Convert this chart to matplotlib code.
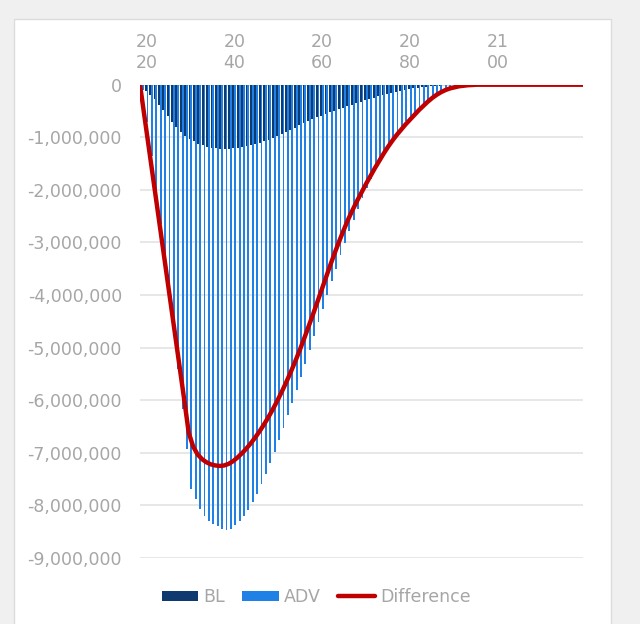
import numpy as np
import matplotlib
matplotlib.use("Agg")
import matplotlib.pyplot as plt
from matplotlib.patches import Rectangle
from matplotlib.ticker import FuncFormatter

years = np.arange(2019, 2120)

# values in millions (magnitude, plotted as negative)
bl = [0.08, 0.12, 0.2, 0.28, 0.38, 0.48, 0.6, 0.7, 0.8, 0.9,
      0.97, 1.03, 1.08, 1.12, 1.15, 1.18, 1.2, 1.21, 1.22, 1.22,
      1.22, 1.21, 1.2, 1.19, 1.17, 1.15, 1.13, 1.1, 1.08, 1.05,
      1.02, 0.98, 0.94, 0.9, 0.86, 0.82, 0.77, 0.73, 0.69, 0.66,
      0.62, 0.59, 0.55, 0.52, 0.5, 0.47, 0.44, 0.41, 0.38, 0.35,
      0.32, 0.3, 0.27, 0.25, 0.22, 0.2, 0.18, 0.16, 0.14, 0.12,
      0.1, 0.09, 0.07, 0.06, 0.05, 0.04, 0.03, 0.025, 0.02, 0.015,
      0.01, 0.008, 0.005, 0.004, 0.003, 0.002, 0.001, 0.001, 0.001, 0.0,
      0.0, 0.0, 0.0, 0.0, 0.0, 0.0, 0.0, 0.0, 0.0, 0.0,
      0.0, 0.0, 0.0, 0.0, 0.0, 0.0, 0.0, 0.0, 0.0, 0.0, 0.0]

adv = [0.1, 0.7, 1.35, 2.0, 2.65, 3.3, 3.95, 4.65, 5.4, 6.16,
       6.92, 7.68, 7.88, 8.07, 8.2, 8.29, 8.36, 8.4, 8.45, 8.46,
       8.44, 8.38, 8.3, 8.2, 8.08, 7.94, 7.78, 7.6, 7.41, 7.2,
       6.98, 6.75, 6.52, 6.29, 6.05, 5.81, 5.56, 5.31, 5.05, 4.78,
       4.52, 4.26, 4.0, 3.74, 3.5, 3.24, 3.01, 2.78, 2.57, 2.36,
       2.16, 1.97, 1.79, 1.6, 1.45, 1.29, 1.15, 1.02, 0.9, 0.79,
       0.69, 0.6, 0.52, 0.44, 0.37, 0.31, 0.26, 0.21, 0.17, 0.14,
       0.11, 0.09, 0.07, 0.05, 0.04, 0.03, 0.02, 0.015, 0.01, 0.007,
       0.005, 0.003, 0.002, 0.001, 0.001, 0.0, 0.0, 0.0, 0.0, 0.0,
       0.0, 0.0, 0.0, 0.0, 0.0, 0.0, 0.0, 0.0, 0.0, 0.0, 0.0]

diff = [0.0, 0.6, 1.2, 1.8, 2.4, 3.0, 3.6, 4.2, 4.8, 5.4,
        6.0, 6.62, 6.88, 7.03, 7.12, 7.18, 7.22, 7.24, 7.25, 7.24,
        7.21, 7.16, 7.09, 7.01, 6.92, 6.82, 6.71, 6.59, 6.46, 6.32,
        6.17, 6.01, 5.84, 5.66, 5.47, 5.27, 5.06, 4.84, 4.61, 4.38,
        4.14, 3.9, 3.66, 3.42, 3.19, 2.97, 2.76, 2.56, 2.38, 2.21,
        2.05, 1.89, 1.74, 1.59, 1.45, 1.31, 1.18, 1.06, 0.95, 0.85,
        0.75, 0.66, 0.57, 0.48, 0.4, 0.32, 0.25, 0.19, 0.14, 0.1,
        0.07, 0.05, 0.03, 0.02, 0.01, 0.005, 0.0, 0.0, 0.0, 0.0,
        0.0, 0.0, 0.0, 0.0, 0.0, 0.0, 0.0, 0.0, 0.0, 0.0,
        0.0, 0.0, 0.0, 0.0, 0.0, 0.0, 0.0, 0.0, 0.0, 0.0, 0.0]

label_years = [2020, 2040, 2060, 2080, 2100]
yticks = np.arange(0, -9000001, -1000000)

bl_col = '#0f3a70'
adv_col = '#1f80e6'
red = '#c00000'
grey_txt = '#a6a6a6'
fs = 12.5

fig = plt.figure(figsize=(6.4, 6.24), dpi=100, facecolor='#f0f0f0')
panel = Rectangle((14/640, -0.01), 597/640, 1 - 19/624 + 0.01,
                  transform=fig.transFigure, facecolor='white',
                  edgecolor='#dcdcdc', lw=1, zorder=-10)
fig.patches.append(panel)

ax = fig.add_axes([140/640, 1 - 558/624, 443/640, (558 - 84.7)/624])
ax.set_facecolor('none')

bl_vals = -np.array(bl) * 1e6
adv_vals = -np.array(adv) * 1e6
diff_vals = -np.array(diff) * 1e6

w = 0.42
ax.bar(years - w/2, bl_vals, width=w, color=bl_col, lw=0, label='BL',
       zorder=2, antialiased=False)
ax.bar(years + w/2, adv_vals, width=w, color=adv_col, lw=0, label='ADV',
       zorder=2, antialiased=False)
ax.set_xlim(years[0] - 0.5, years[-1] + 0.5)
ax.set_ylim(-9000000, 0)

ax.set_yticks(yticks)
ax.yaxis.set_major_formatter(FuncFormatter(lambda v, p: '{:,.0f}'.format(v)))
ax.grid(axis='y', color='#e3e3e3', lw=1.2, zorder=0)
ax.set_axisbelow(True)
for s in ax.spines.values():
    s.set_visible(False)
ax.axhline(0, color='#d9d9d9', lw=1.5, zorder=1)

# line series sits on its own category axis (points at the plot edges)
ax2 = ax.twiny()
ax2.plot(years, diff_vals, color=red, lw=3.2, label='Difference', zorder=3,
         solid_joinstyle='round', solid_capstyle='round')
ax2.set_xlim(years[0], years[-1])
ax2.set_ylim(-9000000, 0)
ax2.set_xticks([])
ax2.patch.set_visible(False)
for s in ax2.spines.values():
    s.set_visible(False)

ax.xaxis.tick_top()
ax.set_xticks(label_years)
ax.set_xticklabels([str(y)[:2] + '\n' + str(y)[2:] for y in label_years])
ax.tick_params(axis='x', which='both', top=True, bottom=False,
               labeltop=True, labelbottom=False,
               length=0, pad=9, labelsize=fs, labelcolor=grey_txt)
ax.tick_params(axis='y', length=0, pad=13, labelsize=fs, labelcolor=grey_txt)

h1, l1 = ax.get_legend_handles_labels()
h2, l2 = ax2.get_legend_handles_labels()
leg = fig.legend(h1 + h2, l1 + l2, loc='center', bbox_to_anchor=(0.494, 1 - 597/624),
                 ncol=3, frameon=False, fontsize=fs, handlelength=2.1,
                 handleheight=0.5, handletextpad=0.3, columnspacing=1.0)
for t in leg.get_texts():
    t.set_color(grey_txt)

fig.savefig('out.png', dpi=100, facecolor=fig.get_facecolor())
